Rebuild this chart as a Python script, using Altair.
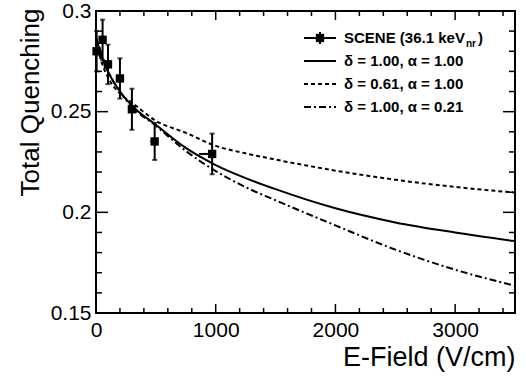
import altair as alt
import pandas as pd

# ---- data ----
field = [5, 55, 100, 200, 300, 490, 970]
field_low = [5, 55, 100, 200, 300, 455, 861]
quench = [0.280, 0.2857, 0.2735, 0.2665, 0.2512, 0.2352, 0.2290]
quench_err = [0.010, 0.010, 0.0098, 0.010, 0.0102, 0.0092, 0.0101]

curve_field = [0, 50, 100, 200, 300, 500, 750, 1000, 1250, 1500, 2000, 2500, 3000, 3500]
q_d100_a100 = [0.287, 0.277, 0.270, 0.260, 0.253, 0.2435, 0.232, 0.2235, 0.217, 0.2115, 0.202, 0.195, 0.190, 0.1857]
q_d061_a100 = [0.285, 0.274, 0.267, 0.259, 0.2545, 0.2455, 0.2395, 0.233, 0.2293, 0.2262, 0.2207, 0.2162, 0.2126, 0.2098]
q_d100_a021 = [0.287, 0.277, 0.270, 0.260, 0.2525, 0.243, 0.2305, 0.2205, 0.2125, 0.206, 0.1935, 0.1815, 0.1715, 0.1635]

x_major = [0, 1000, 2000, 3000]
x_minor = [v for v in range(200, 3500, 200) if v % 1000 != 0]
y_major = [0.15, 0.2, 0.25, 0.3]
y_minor = [round(0.15 + 0.01 * i, 2) for i in range(1, 15) if i % 5 != 0]

legend_labels = ["SCENE (36.1 keV", "δ = 1.00, α = 1.00", "δ = 0.61, α = 1.00", "δ = 1.00, α = 0.21"]
legend_sub = "nr"

FONT = "Liberation Sans"
W, H = 419, 302

pts = pd.DataFrame({"E": field, "Elow": field_low, "Q": quench,
                    "lo": [q - e for q, e in zip(quench, quench_err)],
                    "hi": [q + e for q, e in zip(quench, quench_err)]})
curves = pd.DataFrame({"E": curve_field, "a": q_d100_a100, "b": q_d061_a100, "c": q_d100_a021})

xs = alt.Scale(domain=[0, 3500], nice=False, zero=False)
ys = alt.Scale(domain=[0.15, 0.3], nice=False, zero=False)

x_axis = alt.Axis(values=x_major, format="d", ticks=False, domain=False, grid=False, labelFont=FONT,
                  labelFontSize=21, labelColor="black", labelPadding=6, labelFlush=False,
                  title="E-Field (V/cm)", titleFont=FONT, titleFontSize=27, titleFontWeight="normal",
                  titleColor="black", titleAnchor="end", titleAlign="right", titleX=W, titleY=44,
                  titleBaseline="middle")
y_axis = alt.Axis(values=y_major, format="~g", ticks=False, domain=False, grid=False, labelFont=FONT,
                  labelFontSize=21, labelColor="black", labelPadding=5, labelFlush=False,
                  title="Total Quenching", titleFont=FONT, titleFontSize=26, titleFontWeight="normal",
                  titleColor="black", titleAngle=270, titleAlign="right", titleBaseline="middle",
                  titleX=-66, titleY=-3)


def X(f):
    return alt.X(f, scale=xs, axis=x_axis)


def Y(f):
    return alt.Y(f, scale=ys, axis=y_axis)


base_pts = alt.Chart(pts)
markers = base_pts.mark_square(size=70, color="black", opacity=1).encode(x=X("E:Q"), y=Y("Q:Q"))
ebars = base_pts.mark_rule(color="black", strokeWidth=2).encode(x=X("E:Q"), y=Y("lo:Q"), y2="hi:Q")
xbars = base_pts.mark_rule(color="black", strokeWidth=2).encode(x=X("Elow:Q"), x2="E:Q", y=Y("Q:Q"))
cap_lo = base_pts.mark_tick(color="black", size=5, thickness=2, orient="horizontal").encode(
    x=X("E:Q"), y=Y("lo:Q"))
cap_hi = base_pts.mark_tick(color="black", size=5, thickness=2, orient="horizontal").encode(
    x=X("E:Q"), y=Y("hi:Q"))


def curve(col, dash):
    kw = dict(color="black", strokeWidth=2, interpolate="monotone", clip=True)
    if dash:
        kw["strokeDash"] = dash
    return alt.Chart(curves).mark_line(**kw).encode(x=X("E:Q"), y=Y(f"{col}:Q"))


c1 = curve("a", None)
c2 = curve("b", [4, 3])
c3 = curve("c", [7, 3, 2, 3])


def xticks(vals, length):
    d = pd.DataFrame({"v": vals})
    b = alt.Chart(d).mark_rule(color="black", strokeWidth=1.5)
    return (b.encode(x=X("v:Q"), y=alt.value(H), y2=alt.value(H - length)) +
            b.encode(x=X("v:Q"), y=alt.value(0), y2=alt.value(length)))


def yticks(vals, length):
    d = pd.DataFrame({"v": vals})
    b = alt.Chart(d).mark_rule(color="black", strokeWidth=1.5)
    return (b.encode(y=Y("v:Q"), x=alt.value(0), x2=alt.value(length)) +
            b.encode(y=Y("v:Q"), x=alt.value(W), x2=alt.value(W - length)))


ticks = xticks(x_major, 9) + xticks(x_minor, 5) + yticks(y_major, 12) + yticks(y_minor, 6)

# ---- legend (decoration) ----
one = pd.DataFrame({"k": [0]})
rows_y = [27, 50, 73, 96]
LX0, LX1, TX = 208, 240, 248
leg = []
dashes = [None, None, [4, 3], [7, 3, 2, 3]]
for i, ry in enumerate(rows_y):
    kw = dict(color="black", strokeWidth=2)
    if dashes[i]:
        kw["strokeDash"] = dashes[i]
    leg.append(alt.Chart(one).mark_rule(**kw).encode(
        x=alt.value(LX0), x2=alt.value(LX1), y=alt.value(ry)))
    leg.append(alt.Chart(one).mark_text(text=legend_labels[i], font=FONT, fontSize=15, fontWeight="bold",
                                        align="left", baseline="middle", color="black").encode(
        x=alt.value(TX), y=alt.value(ry)))
leg.append(alt.Chart(one).mark_square(size=70, color="black", opacity=1).encode(
    x=alt.value((LX0 + LX1) / 2), y=alt.value(rows_y[0])))
leg.append(alt.Chart(one).mark_rule(color="black", strokeWidth=2).encode(
    x=alt.value((LX0 + LX1) / 2), y=alt.value(rows_y[0] - 6), y2=alt.value(rows_y[0] + 6)))
leg.append(alt.Chart(one).mark_text(text=legend_sub, font=FONT, fontSize=10, fontWeight="bold",
                                    align="left", baseline="middle", color="black").encode(
    x=alt.value(TX + 122), y=alt.value(rows_y[0] + 6)))
leg.append(alt.Chart(one).mark_text(text=")", font=FONT, fontSize=15, fontWeight="bold",
                                    align="left", baseline="middle", color="black").encode(
    x=alt.value(TX + 134), y=alt.value(rows_y[0])))

chart = alt.layer(markers, c1, c2, c3, ebars, xbars, cap_lo, cap_hi, ticks, *leg).properties(
    width=W, height=H,
    padding={"left": 96, "top": 11, "right": 11, "bottom": 63},
    autosize=alt.AutoSizeParams(type="none"),
    background="white",
).configure_view(stroke="black", strokeWidth=2)

chart.save("out.html", embed_options={"renderer": "svg", "actions": False})
